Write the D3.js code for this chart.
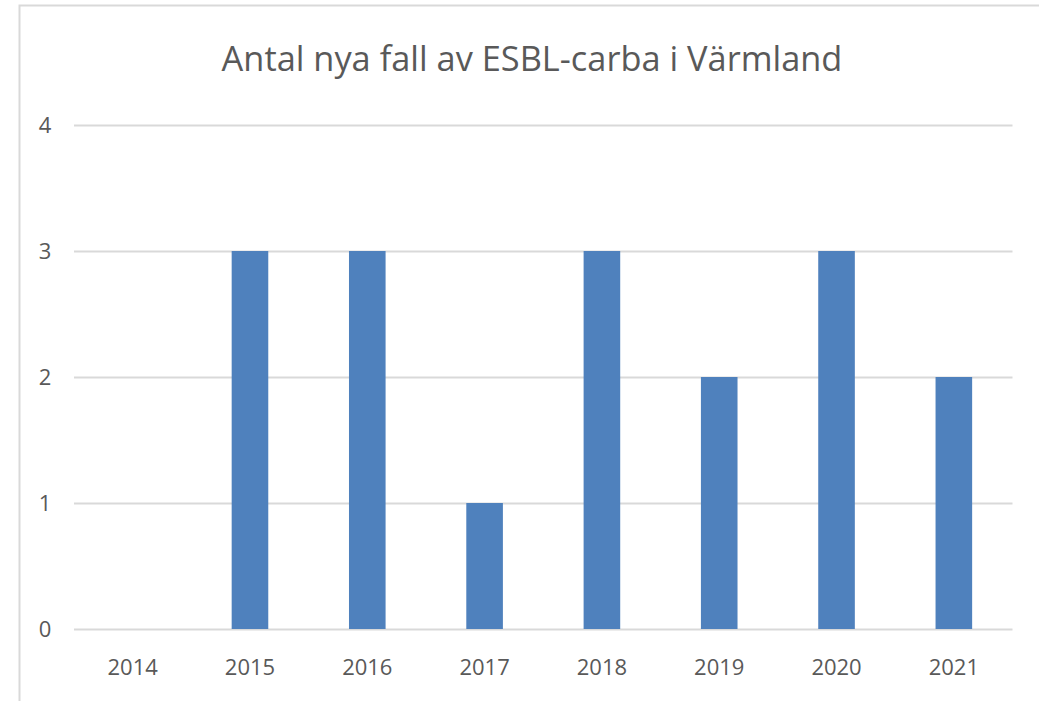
<!DOCTYPE html>
<html>
<head>
<meta charset="utf-8">
<script src="https://cdn.jsdelivr.net/npm/d3@7"></script>
<style>
  body { margin: 0; background: #fff; }
  svg text { font-family: "Open Sans", "Noto Sans", sans-serif; fill: #595959; }
</style>
</head>
<body>
<svg id="chart" width="1039" height="701"></svg>
<script>
// chart data
var title = "Antal nya fall av ESBL-carba i Värmland";
var years = ["2014", "2015", "2016", "2017", "2018", "2019", "2020", "2021"];
var cases = [0, 3, 3, 1, 3, 2, 3, 2];
var yTicks = [0, 1, 2, 3, 4];

var svg = d3.select("#chart");

// outer chart frame (only top and left edges fall inside the picture)
svg.append("rect")
  .attr("x", 19.5)
  .attr("y", 5.5)
  .attr("width", 1040)
  .attr("height", 720)
  .attr("fill", "none")
  .attr("stroke", "#d9d9d9")
  .attr("stroke-width", 2);

var x = d3.scaleBand()
  .domain(years)
  .range([74, 1012.5])
  .paddingInner(0.688)
  .paddingOuter(0.344);

var y = d3.scaleLinear()
  .domain([0, 4])
  .range([629, 125]);

// gridlines
svg.append("g")
  .selectAll("line")
  .data(yTicks)
  .enter()
  .append("line")
  .attr("x1", 74)
  .attr("x2", 1012.5)
  .attr("y1", function(d) { return Math.round(y(d)) + 0.5; })
  .attr("y2", function(d) { return Math.round(y(d)) + 0.5; })
  .attr("stroke", "#d9d9d9")
  .attr("stroke-width", 2);

// bars
svg.append("g")
  .selectAll("rect")
  .data(years)
  .enter()
  .append("rect")
  .attr("x", function(d) { return x(d); })
  .attr("width", x.bandwidth())
  .attr("y", function(d, i) { return y(cases[i]); })
  .attr("height", function(d, i) { return y(0) - y(cases[i]); })
  .attr("fill", "#4f81bd");

// y axis labels
var yAxis = d3.axisLeft(y).tickValues(yTicks).tickFormat(d3.format("d")).tickSize(0).tickPadding(0);
var gy = svg.append("g")
  .attr("transform", "translate(52,0)")
  .call(yAxis);
gy.select(".domain").remove();
gy.selectAll("text")
  .attr("font-size", 22)
  .attr("text-anchor", "middle")
  .attr("x", -7)
  .attr("dy", "0.35em")
  .style("fill", "#595959");

// x axis labels
var xAxis = d3.axisBottom(x).tickSize(0).tickPadding(0);
var gx = svg.append("g")
  .attr("transform", "translate(0,667)")
  .call(xAxis);
gx.select(".domain").remove();
gx.selectAll("text")
  .attr("font-size", 22)
  .attr("y", 0)
  .attr("dy", "0.35em")
  .style("fill", "#595959");

// title, sized to match reference width
var t = svg.append("text")
  .attr("x", 532)
  .attr("y", 62)
  .attr("text-anchor", "middle")
  .attr("dominant-baseline", "middle")
  .attr("font-size", 34)
  .text(title);
var w = t.node().getComputedTextLength();
t.attr("font-size", 34 * 621 / w);
</script>
</body>
</html>
